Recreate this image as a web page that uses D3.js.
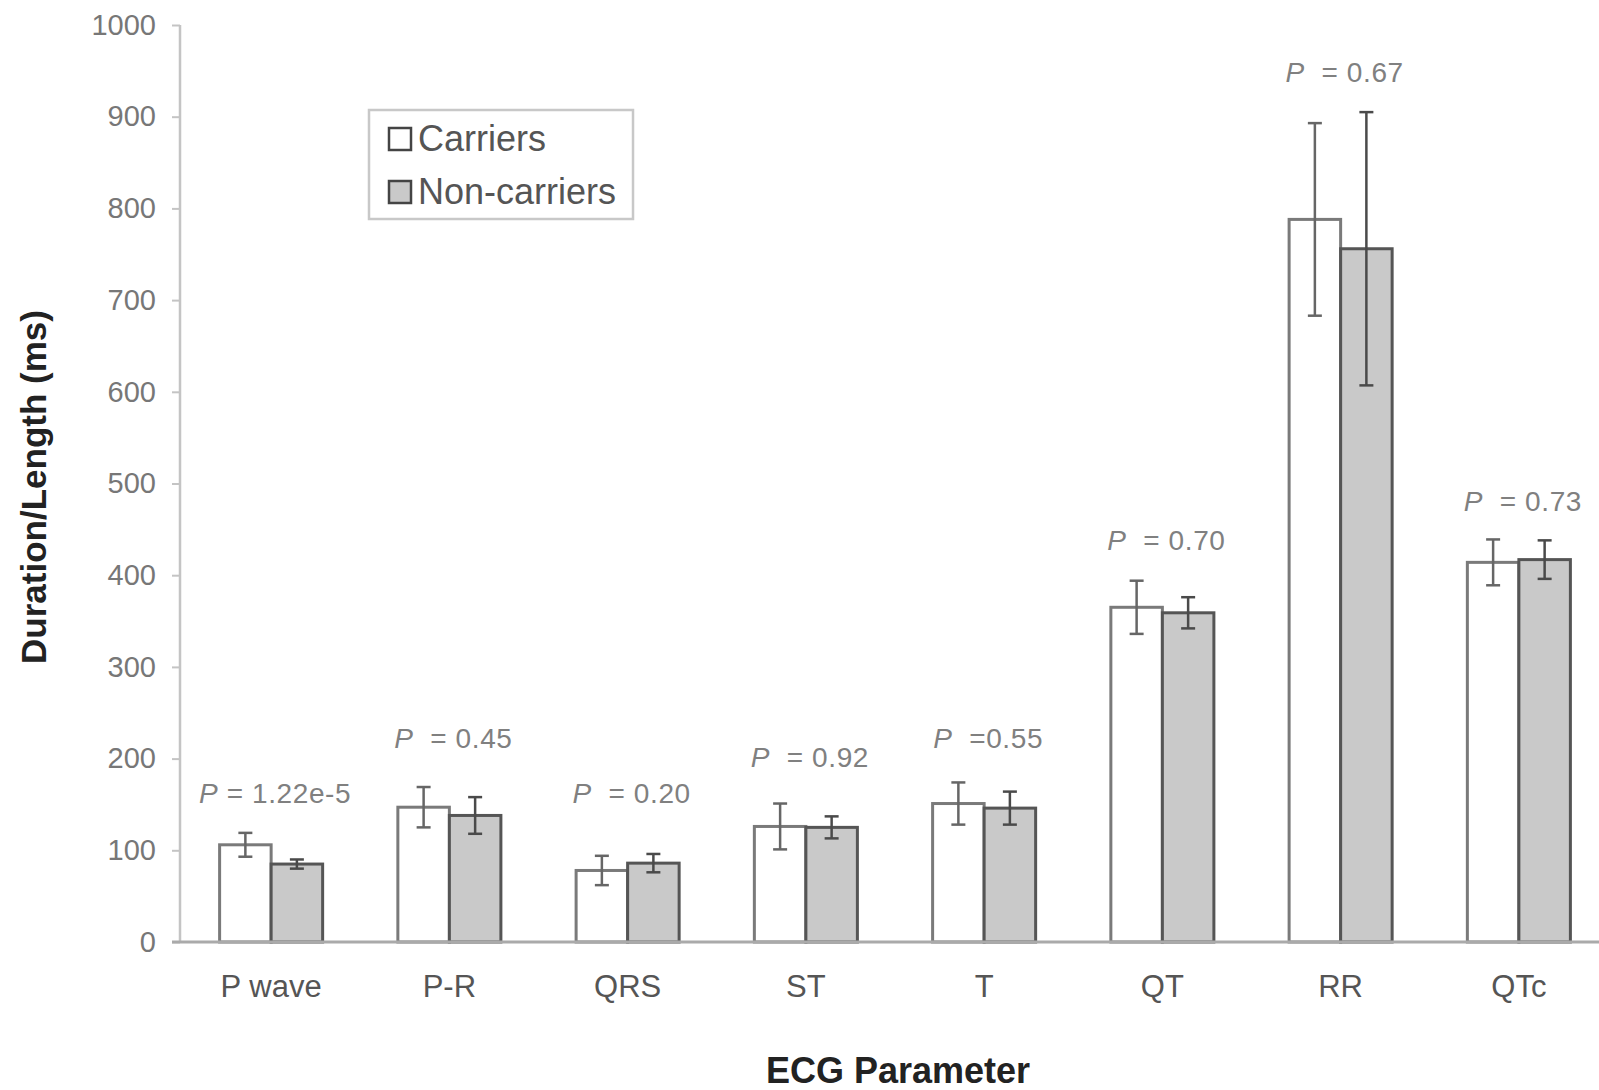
<!DOCTYPE html>
<html>
<head>
<meta charset="utf-8">
<script src="https://cdn.jsdelivr.net/npm/d3@7"></script>
<style>
  body { margin: 0; background: #fff; }
  svg { display: block; font-family: "Liberation Sans", Arial, sans-serif; }
</style>
</head>
<body>
<div id="chart"></div>
<script>
// ECG parameters (ms)
const categories = ["P wave", "P-R", "QRS", "ST", "T", "QT", "RR", "QTc"];
const carriers = [106, 147, 78, 126, 151, 365, 788, 414];
const carriersErr = [13, 22, 16, 25, 23, 29, 105, 25];
const nonCarriers = [85, 138, 86, 125, 146, 359, 756, 417];
const nonCarriersErr = [5, 20, 10, 12, 18, 17, 149, 21];
const pValues = ["= 1.22e-5", " = 0.45", " = 0.20", " = 0.92", " =0.55", " = 0.70", " = 0.67", " = 0.73"];
// height (in ms) where each P label sits
const pLabelAt = [152, 212, 152, 191, 212, 427, 938, 470];
const yTicks = [0, 100, 200, 300, 400, 500, 600, 700, 800, 900, 1000];
const seriesNames = ["Carriers", "Non-carriers"];

const W = 1599, H = 1090;
const svg = d3.select("#chart").append("svg")
    .attr("width", W)
    .attr("height", H);

// scales
const x = d3.scaleBand()
    .domain(categories)
    .range([182, 1608])
    .paddingInner(0.422)
    .paddingOuter(0.211);
const xSub = d3.scaleBand()
    .domain(seriesNames)
    .range([0, x.bandwidth()]);
const y = d3.scaleLinear()
    .domain([0, 1000])
    .range([942, 25]);

// y axis
const axisY = d3.axisLeft(y).tickValues(yTicks).tickFormat(d3.format("d"))
    .tickSize(8).tickPadding(16);
const gy = svg.append("g")
    .attr("transform", "translate(180,0)")
    .call(axisY);
gy.select(".domain").attr("stroke", "#c4c4c4").attr("stroke-width", 2.5)
    .attr("d", `M0,${y(1000)}V${y(0)}`);
gy.selectAll(".tick line").attr("stroke", "#c4c4c4").attr("stroke-width", 2);
gy.selectAll(".tick text")
    .attr("fill", "#777")
    .style("font-size", "29px");

// bars
const fills = ["#ffffff", "#c9c9c9"];
const strokes = ["#7a7a7a", "#555"];
const vals = [carriers, nonCarriers];
const errs = [carriersErr, nonCarriersErr];

seriesNames.forEach((s, si) => {
    const g = svg.append("g");
    g.selectAll("rect")
        .data(categories)
        .enter()
        .append("rect")
        .attr("x", d => x(d) + xSub(s))
        .attr("y", (d, i) => y(vals[si][i]))
        .attr("width", xSub.bandwidth())
        .attr("height", (d, i) => y(0) - y(vals[si][i]))
        .attr("fill", fills[si])
        .attr("stroke", strokes[si])
        .attr("stroke-width", 3);
});

// x axis line
svg.append("line")
    .attr("x1", 172).attr("x2", W)
    .attr("y1", y(0)).attr("y2", y(0))
    .attr("stroke", "#aaa")
    .attr("stroke-width", 3);

// error bars
seriesNames.forEach((s, si) => {
    const g = svg.append("g")
        .attr("stroke", si == 0 ? "#666" : "#4a4a4a")
        .attr("stroke-width", 2.5);
    categories.forEach((c, i) => {
        let cx = x(c) + xSub(s) + xSub.bandwidth() / 2;
        let top = y(vals[si][i] + errs[si][i]);
        let bot = y(vals[si][i] - errs[si][i]);
        g.append("line").attr("x1", cx).attr("x2", cx).attr("y1", top).attr("y2", bot);
        g.append("line").attr("x1", cx - 7).attr("x2", cx + 7).attr("y1", top).attr("y2", top);
        g.append("line").attr("x1", cx - 7).attr("x2", cx + 7).attr("y1", bot).attr("y2", bot);
    });
});

// P value labels
categories.forEach((c, i) => {
    let t = svg.append("text")
        .attr("x", x(c) + x.bandwidth() / 2 + 4)
        .attr("y", y(pLabelAt[i]))
        .attr("text-anchor", "middle")
        .attr("fill", "#808080")
        .style("font-size", "28px")
        .style("letter-spacing", "0.6px")
        .attr("xml:space", "preserve");
    t.append("tspan").style("font-style", "italic").text("P");
    t.append("tspan").text(" " + pValues[i]);
});

// category labels
svg.append("g").selectAll("text")
    .data(categories)
    .enter()
    .append("text")
    .attr("x", d => x(d) + x.bandwidth() / 2)
    .attr("y", 997)
    .attr("text-anchor", "middle")
    .attr("fill", "#555")
    .style("font-size", "31px")
    .text(d => d);

// axis titles
svg.append("text")
    .attr("transform", "translate(46,487) rotate(-90)")
    .attr("text-anchor", "middle")
    .attr("fill", "#222")
    .style("font-size", "35px")
    .style("font-weight", "bold")
    .text("Duration/Length (ms)");

svg.append("text")
    .attr("x", 898)
    .attr("y", 1083)
    .attr("text-anchor", "middle")
    .attr("fill", "#222")
    .style("font-size", "36px")
    .style("font-weight", "bold")
    .text("ECG Parameter");

// legend
const legend = svg.append("g").attr("transform", "translate(369,110)");
legend.append("rect")
    .attr("width", 264).attr("height", 109)
    .attr("fill", "#fff")
    .attr("stroke", "#c8c8c8")
    .attr("stroke-width", 2.5);
seriesNames.forEach((s, si) => {
    let ly = 29 + si * 53;
    legend.append("rect")
        .attr("x", 20).attr("y", ly - 11)
        .attr("width", 22).attr("height", 22)
        .attr("fill", fills[si])
        .attr("stroke", "#444")
        .attr("stroke-width", 2.5);
    legend.append("text")
        .attr("x", 49).attr("y", ly + 12)
        .attr("fill", "#555")
        .style("font-size", "36px")
        .text(s);
});
</script>
</body>
</html>
